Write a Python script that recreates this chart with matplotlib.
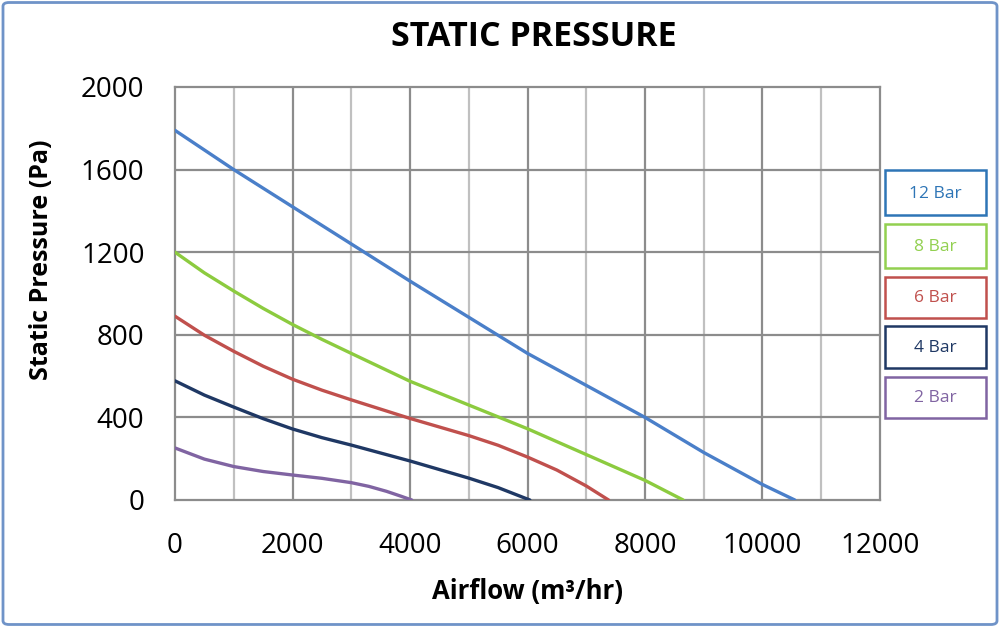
import matplotlib
matplotlib.use("Agg")
import matplotlib.pyplot as plt
from matplotlib.patches import FancyBboxPatch, Rectangle

# Data (airflow m3/hr, static pressure Pa)
x12 = [0, 1000, 2000, 3000, 4000, 5000, 6000, 7000, 8000, 9000, 10000, 10550]
y12 = [1790, 1600, 1420, 1240, 1060, 885, 710, 555, 400, 230, 75, 0]
x8 = [0, 500, 1000, 1500, 2000, 2500, 3000, 4000, 5000, 6000, 7000, 8000, 8650]
y8 = [1200, 1100, 1012, 928, 850, 778, 710, 575, 460, 345, 220, 95, 0]
x6 = [0, 500, 1000, 1500, 2000, 2500, 3000, 4000, 5000, 5500, 6000, 6500, 7000, 7380]
y6 = [890, 798, 720, 648, 585, 532, 485, 395, 312, 265, 208, 145, 68, 0]
x4 = [0, 500, 1000, 1500, 2000, 2500, 3000, 4000, 5000, 5500, 6040]
y4 = [577, 508, 450, 394, 344, 302, 266, 189, 106, 60, 0]
x2 = [0, 500, 1000, 1500, 2000, 2500, 3000, 3300, 3600, 3850, 4030]
y2 = [252, 198, 162, 138, 121, 105, 84, 66, 42, 18, 0]

series = [
    ("12 Bar", x12, y12, "#4A7FC9", "#2E75B6", "#2E75B6"),
    ("8 Bar", x8, y8, "#8CCB3F", "#92D050", "#92D050"),
    ("6 Bar", x6, y6, "#C0504D", "#C0504D", "#C0504D"),
    ("4 Bar", x4, y4, "#1F3864", "#1F3864", "#1F3864"),
    ("2 Bar", x2, y2, "#8064A2", "#8064A2", "#8064A2"),
]

xticks = [0, 2000, 4000, 6000, 8000, 10000, 12000]
yticks = [0, 400, 800, 1200, 1600, 2000]

FONT = "Open Sans"

fig = plt.figure(figsize=(10, 6.27), dpi=100)
ax = fig.add_axes([0.175, (627 - 500) / 627, 0.705, 413 / 627])

# grid
for gx in range(1000, 12000, 1000):
    c = "#8C8C8C" if gx % 2000 == 0 else "#C0C0C0"
    ax.axvline(gx, color=c, lw=1.6, zorder=0)
for gy in yticks[1:-1]:
    ax.axhline(gy, color="#8C8C8C", lw=1.6, zorder=0)

for name, xs, ys, lc, bc, tc in series:
    ax.plot(xs, ys, color=lc, lw=2.4, solid_capstyle="round", solid_joinstyle="round", zorder=3)

ax.set_xlim(0, 12000)
ax.set_ylim(0, 2000)
ax.set_xticks(xticks)
ax.set_yticks(yticks)
ax.tick_params(length=0, labelsize=20)
ax.tick_params(axis="x", pad=23)
ax.tick_params(axis="y", pad=22)
for lab in ax.get_xticklabels() + ax.get_yticklabels():
    lab.set_fontfamily(FONT)
for s in ax.spines.values():
    s.set_color("#8C8C8C")
    s.set_linewidth(1.6)

fig.text(0.534, 1 - 37 / 627, "STATIC PRESSURE", ha="center", va="center",
         fontsize=24.5, fontweight="bold", family=FONT)
fig.text(0.527, 1 - 591 / 627, "Airflow (m³/hr)", ha="center", va="center",
         fontsize=18.5, fontweight="bold", family=FONT)
fig.text(0.042, 1 - 260 / 627, "Static Pressure (Pa)", ha="center", va="center",
         fontsize=18, fontweight="bold", family=FONT, rotation=90)

# legend boxes
boxes = [(170, 215), (224, 268), (277, 318), (326, 368), (377, 418)]
for (name, xs, ys, lc, bc, tc), (t, b) in zip(series, boxes):
    r = Rectangle((885 / 1000, 1 - b / 627), 101 / 1000, (b - t) / 627,
                  transform=fig.transFigure, fill=False, edgecolor=bc, lw=1.8)
    fig.add_artist(r)
    fig.text(935.5 / 1000, 1 - ((t + b) / 2 + 1) / 627, name, ha="center", va="center",
             fontsize=12.5, color=tc, family=FONT)

# outer border
border = FancyBboxPatch((0.003, 0.004), 0.994, 0.992, boxstyle="round,pad=0,rounding_size=0.006",
                        transform=fig.transFigure, fill=False, edgecolor="#6F93C8", lw=2)
fig.add_artist(border)

fig.savefig("out.png", dpi=100)
